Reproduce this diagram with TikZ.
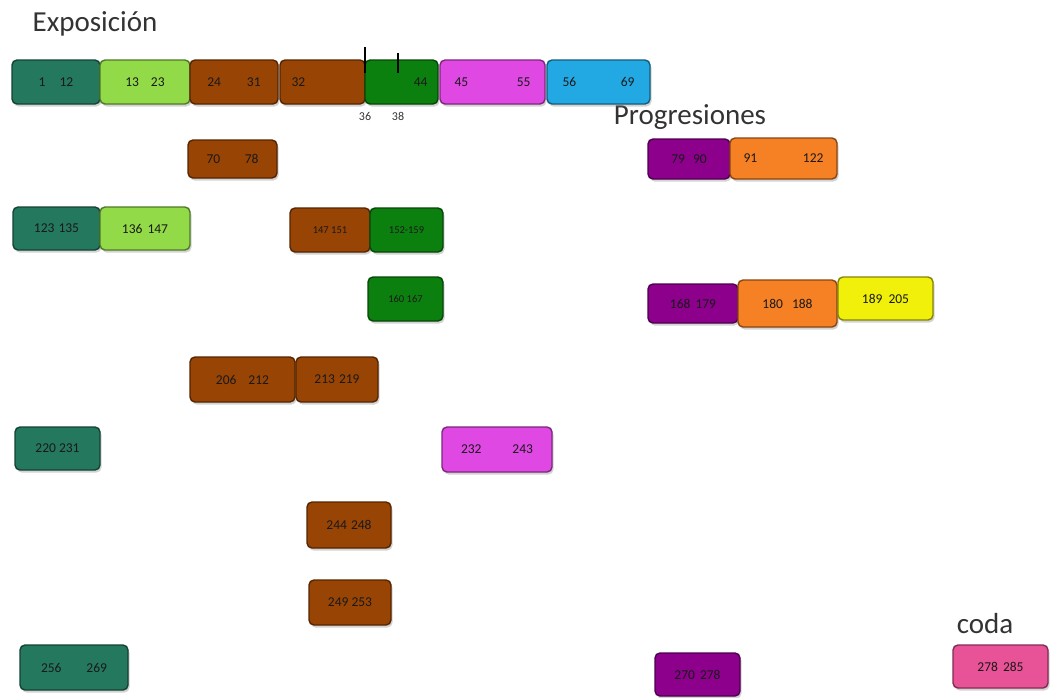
\documentclass[tikz,border=0pt]{standalone}
\usepackage{fontspec}
\setmainfont{Carlito}
\usetikzlibrary{shadows}
\definecolor{cteal}{RGB}{36,120,94}
\definecolor{clgreen}{RGB}{146,218,72}
\definecolor{cbrown}{RGB}{152,68,4}
\definecolor{cgreen}{RGB}{12,128,14}
\definecolor{cmag}{RGB}{224,72,228}
\definecolor{ccyan}{RGB}{34,168,226}
\definecolor{cpurple}{RGB}{140,0,140}
\definecolor{corange}{RGB}{246,128,36}
\definecolor{cyellow}{RGB}{240,240,10}
\definecolor{cpink}{RGB}{232,82,150}
\tikzset{
  box/.style={draw=#1!55!black, fill=#1, line width=1.4pt, rounded corners=5pt,
    inner sep=0pt, outer sep=0pt,
    drop shadow={shadow xshift=1.5pt, shadow yshift=-2.5pt, opacity=0.35},
    font=\fontsize{13.5}{13.5}\selectfont, text=black!90},
  small/.style={font=\fontsize{10.5}{10.5}\selectfont},
  title/.style={font=\fontsize{29}{29}\selectfont, text=black!80},
  tick/.style={line width=2pt, black}
}
\newcommand{\bx}[8][]{\node[box=#3, #1, minimum width={(#6-#4)*1pt}, minimum height={(#7-#5)*1pt}] (#2) at ({(#4+#6)/2},{(#5+#7)/2}) {#8};}
\begin{document}
\begin{tikzpicture}[x=1pt,y=-1pt]
\useasboundingbox (0,0) rectangle (1053,697);
% titles
\node[title] (expo) at (95,24) {Exposición};
\node[title] (prog) at (690,117) {Progresiones};
\node[title] (coda) at (985,624) {coda};
% row 1
\bx{a1}{cteal}{12}{60}{100}{104}{1\hspace{14pt}12}
\bx{a2}{clgreen}{100}{60}{190}{104}{13\hspace{12pt}23}
\bx{a3}{cbrown}{190}{60}{278}{104}{24\hspace{26pt}31}
\bx{a4}{cbrown}{280}{60}{365}{104}{\makebox[62pt][l]{32}}
\bx{a5}{cgreen}{365}{60}{438}{104}{\makebox[52pt][r]{44}}
\bx{a6}{cmag}{440}{60}{545}{104}{\makebox[76pt]{45\hfill 55}}
\bx{a7}{ccyan}{547}{60}{650}{104}{\makebox[72pt]{56\hfill 69}}
\coordinate (t1a) at (365,47); \coordinate (t1b) at (365,73);
\coordinate (t2a) at (398,53); \coordinate (t2b) at (398,73);
\draw[tick] (t1a) -- (t1b);
\draw[tick] (t2a) -- (t2b);
\node[font=\fontsize{12}{12}\selectfont, text=black!80] (l36) at (365,116) {36};
\node[font=\fontsize{12}{12}\selectfont, text=black!80] (l38) at (398,116) {38};
% row 2
\bx{b1}{cbrown}{188}{140}{277}{178}{\makebox[52pt]{70\hfill 78}}
\bx{b2}{cpurple}{648}{139}{730}{179}{79\hspace{8pt}90}
\bx{b3}{corange}{730}{138}{837}{179}{\makebox[80pt]{91\hfill 122}}
% row 3
\bx{c1}{cteal}{13}{207}{100}{250}{123\hspace{4pt}135}
\bx{c2}{clgreen}{100}{207}{190}{250}{136\hspace{5pt}147}
\bx[small]{c3}{cbrown}{290}{208}{370}{252}{147 151}
\bx[small]{c4}{cgreen}{370}{208}{443}{252}{152-159}
% row 4
\bx[small]{d1}{cgreen}{368}{277}{443}{321}{160 167}
\bx{d2}{cpurple}{648}{284}{738}{323}{168\hspace{5pt}179}
\bx{d3}{corange}{738}{280}{837}{327}{180\hspace{9pt}188}
\bx{d4}{cyellow}{838}{277}{933}{320}{189\hspace{6pt}205}
% row 5
\bx{e1}{cbrown}{190}{357}{295}{402}{206\hspace{12pt}212}
\bx{e2}{cbrown}{296}{357}{378}{402}{213\hspace{4pt}219}
% row 6
\bx{f1}{cteal}{15}{427}{100}{470}{220\hspace{3pt}231}
\bx{f2}{cmag}{442}{427}{552}{472}{\makebox[72pt]{232\hfill 243}}
% row 7, 8
\bx{g1}{cbrown}{307}{502}{391}{548}{244\hspace{4pt}248}
\bx{h1}{cbrown}{309}{580}{391}{625}{249\hspace{3pt}253}
% row 9
\bx{i1}{cteal}{20}{645}{128}{690}{\makebox[66pt]{256\hfill 269}}
\bx{i2}{cpurple}{655}{653}{740}{696}{270\hspace{5pt}278}
\bx{i3}{cpink}{953}{645}{1048}{688}{278\hspace{5pt}285}
\end{tikzpicture}
\end{document}
